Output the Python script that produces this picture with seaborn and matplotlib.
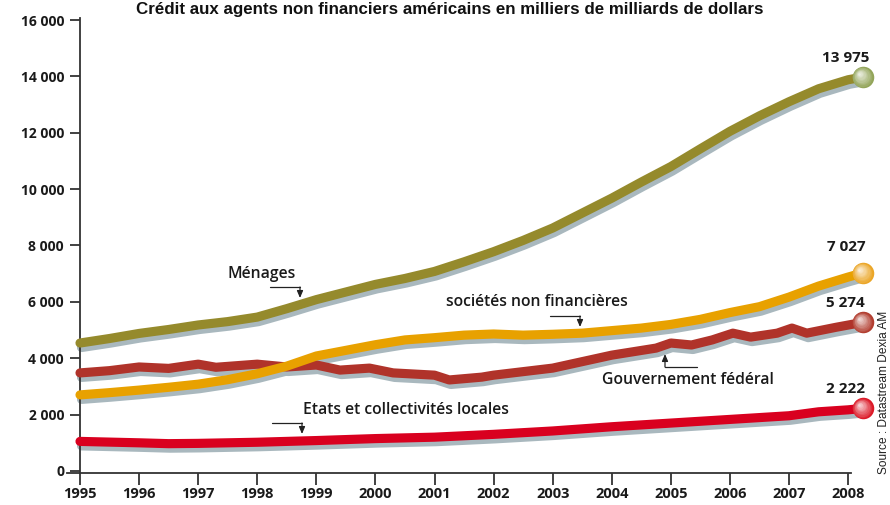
import numpy as np
import pandas as pd
import matplotlib
matplotlib.use("Agg")
import matplotlib.pyplot as plt
from matplotlib import transforms
import matplotlib.colors as mcolors
import seaborn as sns

# ---------------- data ----------------
title = "Crédit aux agents non financiers américains en milliers de milliards de dollars"
source = "Source : Datastream Dexia AM"

years_menages = [1995.0, 1995.5, 1996.0, 1996.5, 1997.0, 1997.5, 1998.0, 1998.5, 1999.0, 1999.5,
                 2000.0, 2000.5, 2001.0, 2001.5, 2002.0, 2002.5, 2003.0, 2003.5, 2004.0, 2004.5,
                 2005.0, 2005.5, 2006.0, 2006.5, 2007.0, 2007.5, 2008.0, 2008.25]
menages = [4540, 4700, 4880, 5020, 5180, 5300, 5460, 5760, 6080, 6350,
           6620, 6830, 7080, 7420, 7780, 8180, 8620, 9150, 9680, 10250,
           10800, 11430, 12050, 12600, 13100, 13560, 13880, 13975]

years_societes = [1995.0, 1995.5, 1996.0, 1996.5, 1997.0, 1997.5, 1998.0, 1998.5, 1999.0, 1999.5,
                  2000.0, 2000.5, 2001.0, 2001.5, 2002.0, 2002.5, 2003.0, 2003.5, 2004.0, 2004.5,
                  2005.0, 2005.5, 2006.0, 2006.5, 2007.0, 2007.5, 2008.0, 2008.25]
societes = [2700, 2780, 2870, 2970, 3080, 3240, 3450, 3720, 4080, 4280,
            4480, 4650, 4730, 4820, 4860, 4820, 4850, 4890, 4980, 5070,
            5200, 5380, 5620, 5830, 6170, 6560, 6880, 7027]

years_federal = [1995.0, 1995.5, 1996.0, 1996.5, 1997.0, 1997.3, 1998.0, 1998.5, 1999.0, 1999.4,
                 1999.9, 2000.3, 2001.0, 2001.25, 2001.8, 2002.0, 2003.0, 2004.0, 2004.75, 2005.0,
                 2005.35, 2005.7, 2006.05, 2006.35, 2006.8, 2007.05, 2007.3, 2007.8, 2008.25]
federal = [3480, 3560, 3690, 3640, 3790, 3680, 3790, 3690, 3760, 3580,
           3650, 3480, 3400, 3230, 3330, 3400, 3650, 4110, 4360, 4540,
           4470, 4650, 4890, 4750, 4890, 5070, 4890, 5100, 5274]

years_etats = [1995.0, 1996.0, 1996.5, 1997.0, 1998.0, 1999.0, 2000.0, 2001.0, 2002.0, 2003.0,
               2004.0, 2005.0, 2006.0, 2007.0, 2007.5, 2008.0, 2008.25]
etats = [1050, 1000, 970, 980, 1020, 1080, 1150, 1200, 1300, 1420,
         1570, 1700, 1830, 1960, 2100, 2170, 2222]

end_labels = ["13 975", "7 027", "5 274", "2 222"]
series_names = ["Ménages", "sociétés non financières", "Gouvernement fédéral",
                "Etats et collectivités locales"]

xtick_values = list(range(1995, 2009))
xtick_labels = [str(y) for y in xtick_values]
ytick_values = [0, 2000, 4000, 6000, 8000, 10000, 12000, 14000, 16000]
ytick_labels = ["0", "2 000", "4 000", "6 000", "8 000", "10 000", "12 000", "14 000", "16 000"]

# ---------------- style ----------------
sns.set_theme(style="white")
plt.rcParams["font.family"] = ["Open Sans", "DejaVu Sans"]

line_colors = ["#958a2c", "#e8a100", "#b0332a", "#d9001f"]
ball_colors = ["#93a55a", "#eba628", "#b23e30", "#dc1a28"]
shadow_color = "#a9b8be"

fig = plt.figure(figsize=(8.9, 5.05), dpi=100)
W, H = 890, 505
ax = fig.add_axes([67 / W, (H - 473) / H, (880 - 67) / W, (473 - 20) / H])
ax.set_xlim(1994.78, 2008.54)
ax.set_ylim(-71, 16000)

frames = [
    pd.DataFrame({"year": years_menages, "value": menages}),
    pd.DataFrame({"year": years_societes, "value": societes}),
    pd.DataFrame({"year": years_federal, "value": federal}),
    pd.DataFrame({"year": years_etats, "value": etats}),
]

shadow_tr = transforms.offset_copy(ax.transData, fig=fig, x=1.5, y=-4.5, units="dots")
lw = 6.6
for df in frames:
    sns.lineplot(data=df, x="year", y="value", ax=ax, color=shadow_color, linewidth=lw,
                 transform=shadow_tr, solid_capstyle="round", solid_joinstyle="round",
                 legend=False, zorder=2)
for idx in [3, 2, 1, 0]:
    sns.lineplot(data=frames[idx], x="year", y="value", ax=ax, color=line_colors[idx],
                 linewidth=lw, solid_capstyle="round", solid_joinstyle="round",
                 legend=False, zorder=3 + (3 - idx) * 0.1)

# end balls with gradient
n_layers = 10
for idx, df in enumerate(frames):
    xe, ye = df["year"].iloc[-1], df["value"].iloc[-1]
    base = np.array(mcolors.to_rgb(ball_colors[idx]))
    for i in range(n_layers):
        f = i / (n_layers - 1)
        size = 240 * (1 - 0.88 * f) ** 2
        col = base * (1 - 0.8 * f) + np.ones(3) * 0.8 * f
        tr = transforms.offset_copy(ax.transData, fig=fig, x=-3.4 * f, y=3.4 * f, units="dots")
        ax.scatter([xe], [ye], s=size, color=col, transform=tr, zorder=10 + i * 0.01,
                   linewidths=0, clip_on=False)

# end labels
label_dy = [19, 26, 19, 19]
for idx, df in enumerate(frames):
    xe, ye = df["year"].iloc[-1], df["value"].iloc[-1]
    ax.annotate(end_labels[idx], xy=(xe, ye), xytext=(-17, label_dy[idx]),
                textcoords="offset pixels", ha="center", va="center",
                fontsize=11, fontweight="bold", color="#1a1a1a", annotation_clip=False)

def px(xp, yp):
    return (xp / W, (H - yp) / H)

def elbow(x0, x1, y0, y1):
    fig.add_artist(plt.Line2D([x0 / W, x1 / W], [(H - y0) / H, (H - y0) / H],
                              color="#222222", lw=0.9, transform=fig.transFigure))
    ax.annotate("", xy=px(x1, y1), xycoords="figure fraction",
                xytext=px(x1, y0), textcoords="figure fraction",
                arrowprops=dict(arrowstyle="-|>,head_length=0.35,head_width=0.15",
                                color="#222222", lw=0.9, shrinkA=0, shrinkB=0))

lab_kw = dict(fontsize=11.3, color="#1a1a1a", va="center", fontweight="semibold")
fig.text(*px(262, 274), series_names[0], ha="center", **lab_kw)
elbow(270, 300, 287, 298)
fig.text(*px(537, 302), series_names[1], ha="center", **lab_kw)
elbow(550, 580, 316, 327)
fig.text(*px(688, 380), series_names[2], ha="center", **lab_kw)
elbow(697, 665, 367, 354)
fig.text(*px(406, 410), series_names[3], ha="center", **lab_kw)
elbow(272, 302, 423, 434)

# axes styling
for s in ["top", "right"]:
    ax.spines[s].set_visible(False)
ax.spines["left"].set_position(("data", 1995))
ax.spines["left"].set_bounds(-71, 16080)
ax.spines["bottom"].set_bounds(1994.78, 2008.05)
for s in ["left", "bottom"]:
    ax.spines[s].set_color("#333333")
    ax.spines[s].set_linewidth(1.3)

ax.set_xticks(xtick_values)
ax.set_xticklabels(xtick_labels, fontweight="bold")
ax.set_yticks(ytick_values)
ax.set_yticklabels(ytick_labels, fontweight="bold")
ax.tick_params(axis="y", direction="out", length=7.5, width=1.3, color="#333333", pad=4,
               labelsize=10, left=True, labelcolor="#1a1a1a")
ax.tick_params(axis="x", direction="out", length=8.5, width=1.3, color="#333333", pad=1.5,
               labelsize=10.5, bottom=True, labelcolor="#1a1a1a")
ax.set_xlabel("")
ax.set_ylabel("")
ax.grid(False)

# title
fig.text(450 / W, (H - 2) / H, title, ha="center", va="top", fontsize=12.2,
         fontweight="bold", color="#111111",
         family=["Liberation Sans Narrow", "Liberation Sans", "DejaVu Sans"])

# source
fig.text(884 / W, (H - 392) / H, source, rotation=90, ha="center", va="center",
         fontsize=8.6, color="#222222", family=["Liberation Sans", "DejaVu Sans"])

fig.savefig("out.png", dpi=100)
